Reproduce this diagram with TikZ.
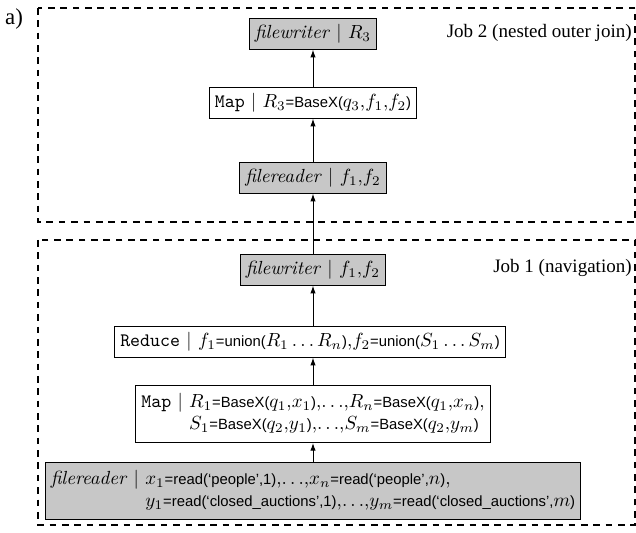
\documentclass[tikz,border=0pt]{standalone}
\usepackage{fontspec}
\newfontfamily\tms{Liberation Serif}
\newfontfamily\hv{Liberation Sans}[Scale=0.78]
\usetikzlibrary{arrows.meta}
\begin{document}
\begin{tikzpicture}[x=0.526pt,y=-0.526pt,
  opbox/.style={draw, line width=0.5pt, inner sep=3pt, fill=white, font=\normalsize},
  iobox/.style={opbox, fill=black!22},
  jobframe/.style={line width=1.2pt, dash pattern=on 3.5pt off 3pt},
  flow/.style={line width=0.5pt, -{Latex[length=4pt,width=2.8pt]}},
  joblabel/.style={anchor=east, inner sep=0pt, font=\tms}]
\useasboundingbox (0,0) rectangle (636,533);
% frames
\draw[jobframe] (38,8) rectangle (635.5,222);
\draw[jobframe] (38,240) rectangle (635.5,525);
\node[inner sep=0pt, font=\tms\large] (lbl) at (14,19) {a)};
\node[joblabel] (j2) at (632,33) {Job 2 (nested outer join)};
\node[joblabel] (j1) at (632,268) {Job 1 (navigation)};
% job 2
\node[iobox] (fw2) at (313,34) {\textit{filewriter} $\mid$ $R_3$};
\node[opbox] (map2) at (313,103) {\texttt{Map} $\mid$ $R_3${\hv =BaseX(}$q_3{,}f_1{,}f_2${\hv )}};
\node[iobox] (fr2) at (313,178) {\textit{filereader} $\mid$ $f_1{,}f_2$};
% job 1
\node[iobox] (fw1) at (313,270) {\textit{filewriter} $\mid$ $f_1{,}f_2$};
\node[opbox] (red) at (310,342) {\texttt{Reduce} $\mid$ $f_1${\hv =union(}$R_1 \ldots R_n${\hv )},$f_2${\hv =union(}$S_1 \ldots S_m${\hv )}};
\node[opbox] (map1) at (313,414) {\texttt{Map} $\mid$ \begin{tabular}[t]{@{}l@{}}$R_1${\hv =BaseX(}$q_1{,}x_1${\hv )},$\ldots$,$R_n${\hv =BaseX(}$q_1{,}x_n${\hv )},\\ $S_1${\hv =BaseX(}$q_2{,}y_1${\hv )},$\ldots$,$S_m${\hv =BaseX(}$q_2{,}y_m${\hv )}\end{tabular}};
\node[iobox] (fr1) at (313,491) {\textit{filereader} $\mid$ \begin{tabular}[t]{@{}l@{}}$x_1${\hv =read(‘people’,1)},$\ldots$,$x_n${\hv =read(‘people’,}$n${\hv )},\\ $y_1${\hv =read(‘closed\_auctions’,1)},$\ldots$,$y_m${\hv =read(‘closed\_auctions’,}$m${\hv )}\end{tabular}};
% flows
\draw[flow] (fr1.north -| map1.south) -- (map1.south);
\draw[flow] (map1.north) -- (map1.north |- red.south);
\draw[flow] (map1.north |- red.north) -- (map1.north |- fw1.south);
\draw[flow] (fw1.north) -- (fr2.south);
\draw[flow] (fr2.north) -- (map2.south);
\draw[flow] (map2.north) -- (fw2.south);
\end{tikzpicture}
\end{document}
